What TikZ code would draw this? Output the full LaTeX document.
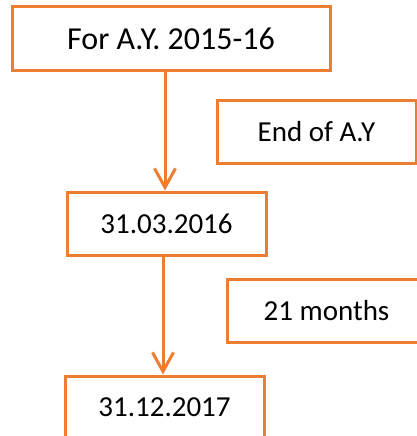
\documentclass[tikz,border=0pt]{standalone}
\usepackage{fontspec}
\setmainfont{Carlito}
\usetikzlibrary{arrows.meta}
\definecolor{boxorange}{RGB}{237,125,49}
\begin{document}
\begin{tikzpicture}[x=1pt, y=-1pt, line width=3pt, draw=boxorange,
    box/.style={rectangle, draw=boxorange, minimum height=63pt, inner sep=0pt, font=\fontsize{29}{34}\selectfont},
    arr/.style={draw=boxorange, -{Straight Barb[length=19pt, width=21pt, line width=3pt]}}]
                \clip (0, 0) rectangle (417, 436);
                % Nodes
                \node[box, minimum width=318pt, font=\fontsize{32}{38}\selectfont] (ay) at (171, 38.5) {For A.Y. 2015-16};
                \node[box, minimum width=199pt] (endAY) at (316.5, 132) {End of A.Y};
                \node[box, minimum width=199pt] (d1) at (166.5, 223.5) {31.03.2016};
                \node[box, minimum width=199pt] (months) at (326.5, 310.5) {21 months};
                \node[box, minimum width=199pt] (d2) at (164.5, 407.5) {31.12.2017};
                % Edges
                \draw[arr] (ay.south -| 165, 0) -- (d1.north -| 165, 0);
                \draw[arr] (d1.south -| 163, 0) -- (d2.north -| 163, 0);
            \end{tikzpicture}
\end{document}
